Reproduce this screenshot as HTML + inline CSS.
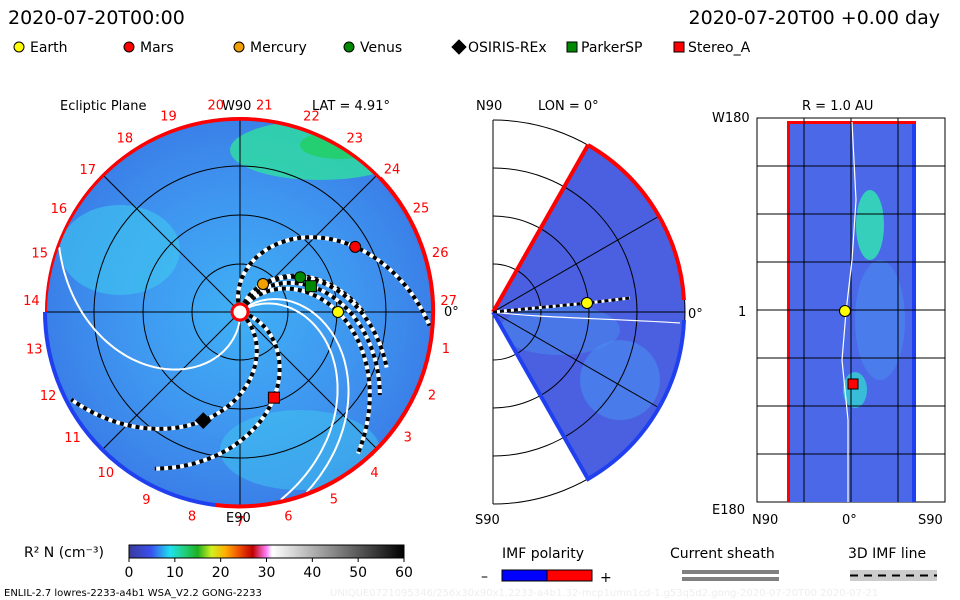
<!DOCTYPE html>
<html><head><meta charset="utf-8"><style>
body{margin:0;background:#fff;}
svg{display:block;font-family:"DejaVu Sans","Liberation Sans",sans-serif;}
</style></head><body>
<svg id="c" width="960" height="600" viewBox="0 0 960 600">
<defs>
<radialGradient id="bg1" cx="0.5" cy="0.5" r="0.5">
<stop offset="0" stop-color="#3fb0f5"/><stop offset="0.6" stop-color="#3f96f0"/><stop offset="1" stop-color="#3a7fe8"/>
</radialGradient>
<linearGradient id="cbar" x1="0" x2="1">
<stop offset="0" stop-color="#3a3a9a"/><stop offset="0.08" stop-color="#3a50f0"/><stop offset="0.15" stop-color="#20e0f0"/><stop offset="0.2" stop-color="#20d080"/><stop offset="0.25" stop-color="#20b020"/><stop offset="0.3" stop-color="#d0f020"/><stop offset="0.35" stop-color="#ffb000"/><stop offset="0.4" stop-color="#f05000"/><stop offset="0.45" stop-color="#c00000"/><stop offset="0.5" stop-color="#ff80ff"/><stop offset="0.52" stop-color="#ffffff"/><stop offset="1" stop-color="#000000"/>
</linearGradient>
<clipPath id="lc"><circle cx="240" cy="312" r="195"/></clipPath>
<clipPath id="wc"><path d="M493,312 L588,145 A192,192 0 0 1 588,479 Z"/></clipPath>
</defs>

<text x="8" y="24" font-size="19">2020-07-20T00:00</text>
<text x="940" y="24" font-size="19" text-anchor="end">2020-07-20T00 +0.00 day</text>

<g id="legend" font-size="14"></g>

<!-- Left ecliptic plane -->
<text x="60" y="110" font-size="13">Ecliptic Plane</text>
<text x="222" y="110" font-size="13">W90</text>
<text x="312" y="110" font-size="13">LAT = 4.91°</text>
<g clip-path="url(#lc)">
<circle cx="240" cy="312" r="195" fill="url(#bg1)"/>
<ellipse cx="320" cy="150" rx="90" ry="30" fill="#30e0a0" opacity="0.8"/>
<ellipse cx="340" cy="145" rx="40" ry="14" fill="#20d060" opacity="0.8"/>
<ellipse cx="120" cy="250" rx="60" ry="45" fill="#40c8f0" opacity="0.6"/>
<ellipse cx="300" cy="450" rx="80" ry="40" fill="#40c8f0" opacity="0.5"/>
</g>
<g id="lgrid" stroke="#000" fill="none" stroke-width="1"></g>
<g id="spirals"></g>
<path d="M45,312 A195,195 0 0 1 380,178" stroke="#f00" stroke-width="4" fill="none" clip-path="url(#lc)"/>
<path d="M380,178 A195,195 0 0 1 340,478" stroke="#f00" stroke-width="4" fill="none"/>
<path d="M340,478 A195,195 0 0 1 215,505" stroke="#f00" stroke-width="4" fill="none"/>
<path d="M215,505 A195,195 0 0 1 45,312" stroke="#2040f0" stroke-width="4" fill="none"/>
<circle cx="240" cy="312" r="8" fill="#fff" stroke="#f00" stroke-width="3"/>
<g id="hours" font-size="13" fill="#f00"></g>
<text x="444" y="316" font-size="13">0°</text>
<text x="226" y="522" font-size="13">E90</text>
<g id="planets"></g>

<!-- Middle meridional -->
<text x="476" y="110" font-size="13">N90</text>
<text x="538" y="110" font-size="13">LON = 0°</text>
<text x="475" y="524" font-size="13">S90</text>
<path d="M493,312 L588,145 A192,192 0 0 1 588,479 Z" fill="#4a60e0" stroke="none"/>
<g clip-path="url(#wc)">
<ellipse cx="620" cy="380" rx="40" ry="40" fill="#4a8ef0" opacity="0.6"/>
<ellipse cx="560" cy="330" rx="60" ry="25" fill="#4a8ef0" opacity="0.5"/>
</g>
<g id="mgrid" stroke="#000" fill="none"></g>
<path d="M493,312 L588,145" stroke="#f00" stroke-width="4"/>
<path d="M588,145 A192,192 0 0 1 684,300" stroke="#f00" stroke-width="4" fill="none"/>
<path d="M493,312 L588,479 A192,192 0 0 0 684,320" stroke="#2040f0" stroke-width="4" fill="none"/>
<path d="M493,312 C540,318 600,318 680,323" stroke="#fff" stroke-width="1.2" fill="none"/>
<path d="M493,312 L588,303 L630,298" stroke="#fff" stroke-width="3" fill="none"/>
<path d="M493,312 L588,303 L630,298" stroke="#000" stroke-width="3" stroke-dasharray="4 3" fill="none"/>
<circle cx="587" cy="303" r="5.5" fill="#ff0" stroke="#000"/>
<text x="688" y="318" font-size="13">0°</text>

<!-- Right -->
<text x="802" y="110" font-size="13">R = 1.0 AU</text>
<text x="712" y="122" font-size="13">W180</text>
<text x="738" y="316" font-size="13">1</text>
<text x="712" y="514" font-size="13">E180</text>
<text x="752" y="524" font-size="13">N90</text>
<text x="842" y="524" font-size="13">0°</text>
<text x="918" y="524" font-size="13">S90</text>
<rect x="757" y="118" width="188" height="384" fill="#fff" stroke="#000"/>
<rect x="787" y="121" width="127" height="381" fill="#4a68e8"/>
<ellipse cx="870" cy="225" rx="14" ry="35" fill="#30e8b0" opacity="0.8"/>
<ellipse cx="855" cy="390" rx="12" ry="18" fill="#30e0d0" opacity="0.7"/>
<ellipse cx="880" cy="320" rx="25" ry="60" fill="#4a90f0" opacity="0.5"/>
<rect x="787" y="121" width="3" height="381" fill="#f00"/>
<rect x="912" y="121" width="4" height="381" fill="#2040f0"/>
<rect x="787" y="121" width="129" height="3" fill="#f00"/>
<g id="rgrid" stroke="#000"></g>
<path d="M852,122 L856,200 L852,260 L846,312 L842,360 L848,420 L848,502" stroke="#fff" stroke-width="1.2" fill="none"/>
<circle cx="845" cy="311" r="5.5" fill="#ff0" stroke="#000"/>
<rect x="848" y="379" width="10" height="10" fill="#f00" stroke="#000"/>

<!-- Colorbar -->
<text x="24" y="557" font-size="14">R² N (cm⁻³)</text>
<rect x="129" y="545" width="275" height="13" fill="url(#cbar)" stroke="#000"/>
<g id="cticks" font-size="14"></g>
<text x="4" y="596" font-size="10">ENLIL-2.7 lowres-2233-a4b1 WSA_V2.2 GONG-2233</text>
<text x="330" y="596" font-size="10" fill="#eee">UNIQUE0721095346/256x30x90x1.2233-a4b1.32-mcp1umn1cd-1.g53q5d2.gong-2020-07-20T00    2020-07-21</text>

<!-- Bottom legends -->
<text x="502" y="558" font-size="14">IMF polarity</text>
<text x="481" y="581" font-size="14">–</text>
<rect x="502" y="570" width="45" height="11" fill="#00f" stroke="#000"/>
<rect x="547" y="570" width="45" height="11" fill="#f00" stroke="#000"/>
<text x="600" y="582" font-size="14">+</text>
<text x="670" y="558" font-size="14">Current sheath</text>
<rect x="682" y="570" width="97" height="4" fill="#808080"/>
<rect x="682" y="577" width="97" height="4" fill="#808080"/>
<text x="848" y="558" font-size="14">3D IMF line</text>
<rect x="850" y="570" width="87" height="11" fill="#ccc"/>
<line x1="850" y1="575.5" x2="937" y2="575.5" stroke="#000" stroke-width="2" stroke-dasharray="8 6"/>
</svg>
<script>
const ns="http://www.w3.org/2000/svg";
function mk(t,a,p){const e=document.createElementNS(ns,t);for(const k in a)e.setAttribute(k,a[k]);p.appendChild(e);return e;}
const legendNames=["Earth","Mars","Mercury","Venus","OSIRIS-REx","ParkerSP","Stereo_A"];
const legendX=[12,122,232,342,452,565,672];
const planetR=[1.0,1.35,0.37,0.71,1.17,0.77,0.94];
const planetAng=[0,29.5,50.6,30,-108.7,20,-68.4];
const planetColor=["#ff0","#f00","#f0a000","#080","#000","#080","#f00"];
const planetShape=["c","c","c","c","d","s","s"];
const sheathStart=[88,-42,-34];
const cbTicks=[0,10,20,30,40,50,60];
const hourLabels=[19,20,21,22,23,24,25,26,27,1,2,3,4,5,6,7,8,9,10,11,12,13,14,15,16,17,18];
const cx=240,cy=312,R=195,au=98;
function marker(shape,x,y,col,p,s){
  if(shape==="c")return mk("circle",{cx:x,cy:y,r:s,fill:col,stroke:"#000"},p);
  if(shape==="s")return mk("rect",{x:x-s,y:y-s,width:2*s,height:2*s,fill:col,stroke:"#000"},p);
  return mk("path",{d:`M${x},${y-s*1.4}L${x+s*1.4},${y}L${x},${y+s*1.4}L${x-s*1.4},${y}Z`,fill:col,stroke:"#000"},p);
}
const lg=document.getElementById("legend");
legendNames.forEach((n,i)=>{
  const g=mk("g",{},lg);
  
  
  marker(planetShape[i],legendX[i]+7,47,planetColor[i],g,5);
  const t=mk("text",{x:legendX[i]+(planetShape[i]==="c"?18:16),y:52},g);t.textContent=n;
});
const lgr=document.getElementById("lgrid");
[48,97,146].forEach(r=>mk("circle",{cx,cy,r},lgr));
for(let a=0;a<180;a+=45){const t=a*Math.PI/180;mk("line",{x1:cx-R*Math.cos(t),y1:cy-R*Math.sin(t),x2:cx+R*Math.cos(t),y2:cy+R*Math.sin(t)},lgr);}
const sp=document.getElementById("spirals");
function spiral(a0,rmax,white){
  let d="";for(let r=0.1;r<=rmax;r+=0.02){const th=(a0+ r*57)*Math.PI/180;const x=cx+r*au*Math.cos(th),y=cy+r*au*Math.sin(th);d+=(d?"L":"M")+x.toFixed(1)+","+y.toFixed(1);}
  if(white){mk("path",{d,stroke:"#fff","stroke-width":2,fill:"none","clip-path":"url(#lc)"},sp);}
  else{mk("path",{d,stroke:"#fff","stroke-width":4,fill:"none"},sp);mk("path",{d,stroke:"#000","stroke-width":4,fill:"none","stroke-dasharray":"4 4"},sp);}
}
sheathStart.forEach(a=>spiral(a,1.98,true));
planetAng.forEach((a,i)=>{spiral(-a-planetR[i]*57,Math.min(planetR[i]+0.9,1.95),false);});
const pl=document.getElementById("planets");
planetAng.forEach((a,i)=>{const t=a*Math.PI/180;const m=marker(planetShape[i],cx+planetR[i]*au*Math.cos(t),cy-planetR[i]*au*Math.sin(t),planetColor[i],pl,5.5);

});
const hl=document.getElementById("hours");
hourLabels.forEach((h,i)=>{const a=(110-i*13.33)*Math.PI/180;const t=mk("text",{x:cx+(R+14)*Math.cos(a),y:cy-(R+14)*Math.sin(a)+5,"text-anchor":"middle"},hl);t.textContent=h;});
const mg=document.getElementById("mgrid");
[48,96,144,192].forEach(r=>mk("path",{d:`M493,${312-r} A${r},${r} 0 0 1 493,${312+r}`},mg));
for(let a=-60;a<=60;a+=30){const t=a*Math.PI/180;mk("line",{x1:493,y1:312,x2:493+192*Math.cos(t),y2:312-192*Math.sin(t)},mg);}
mk("line",{x1:493,y1:120,x2:493,y2:504},mg);
const rg=document.getElementById("rgrid");
for(let i=1;i<8;i++)mk("line",{x1:757,y1:118+i*48,x2:945,y2:118+i*48},rg);
[804,851,898].forEach(x=>mk("line",{x1:x,y1:118,x2:x,y2:502},rg));
const ct=document.getElementById("cticks");
cbTicks.forEach(v=>{const x=129+v/60*275;mk("line",{x1:x,y1:558,x2:x,y2:562,stroke:"#000"},ct);const t=mk("text",{x,y:577,"text-anchor":"middle"},ct);t.textContent=v;});
</script>
</body></html>
